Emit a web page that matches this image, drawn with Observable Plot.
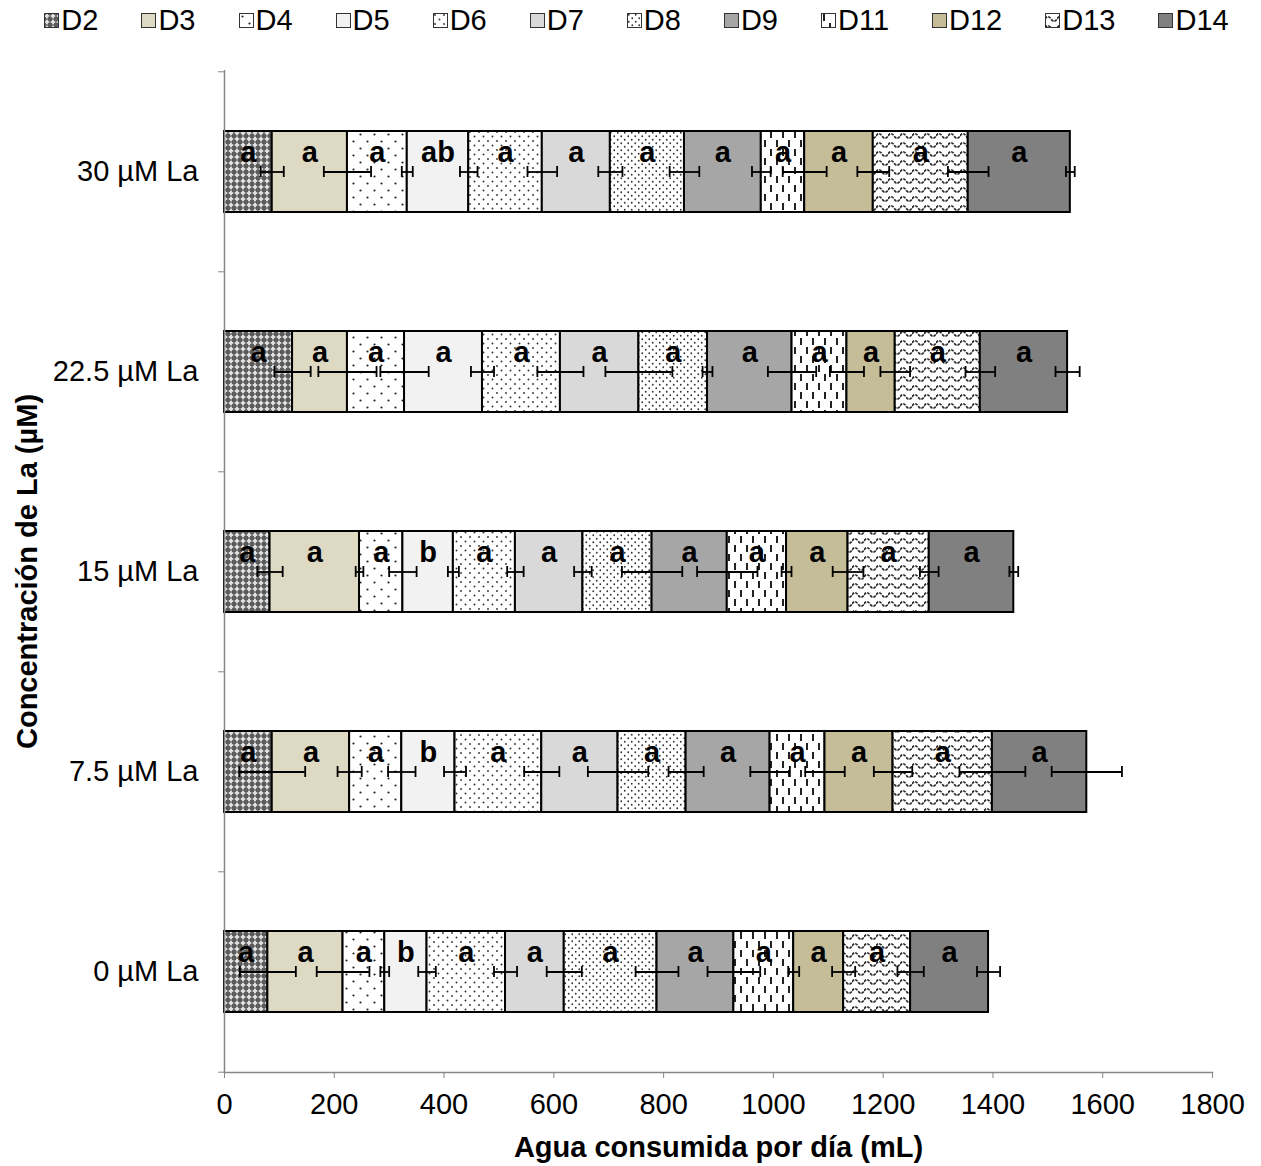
<!DOCTYPE html>
<html><head><meta charset="utf-8">
<script src="https://cdn.jsdelivr.net/npm/d3@7"></script>
<script src="https://cdn.jsdelivr.net/npm/@observablehq/plot@0.6"></script>
<style>
body{margin:0;background:#fff;font-family:"Liberation Sans",Arial,sans-serif;}
#legend{height:40px;display:flex;justify-content:center;align-items:center;gap:43px;font-size:29px;padding-left:12px;color:#000;}
.item{display:flex;align-items:center;}
.item svg{margin-right:2px;}
#chart svg{display:block;}
</style></head><body>
<svg width="0" height="0" style="position:absolute">
<defs>
<pattern id="p-D2" width="6" height="6" patternUnits="userSpaceOnUse">
  <rect width="6" height="6" fill="#5c5c5c"/>
  <path d="M3,0.1L4.1,1.9L5.9,3L4.1,4.1L3,5.9L1.9,4.1L0.1,3L1.9,1.9Z" fill="#f6f6f6"/>
  <circle cx="3" cy="3" r="0.55" fill="#999"/>
</pattern>
<pattern id="p-D3" width="4" height="4" patternUnits="userSpaceOnUse"><rect width="4" height="4" fill="#DDD9C3"/></pattern>
<pattern id="p-D4" width="14" height="14" patternUnits="userSpaceOnUse">
  <rect width="14" height="14" fill="#fff"/>
  <circle cx="3.5" cy="3.5" r="1.1" fill="#222"/><circle cx="10.5" cy="10.5" r="1.1" fill="#222"/>
</pattern>
<pattern id="p-D5" width="4" height="4" patternUnits="userSpaceOnUse"><rect width="4" height="4" fill="#F2F2F2"/></pattern>
<pattern id="p-D6" width="9" height="9" patternUnits="userSpaceOnUse">
  <rect width="9" height="9" fill="#fff"/>
  <circle cx="2" cy="2" r="0.95" fill="#333"/><circle cx="6.5" cy="6.5" r="0.95" fill="#333"/>
</pattern>
<pattern id="p-D7" width="4" height="4" patternUnits="userSpaceOnUse"><rect width="4" height="4" fill="#D9D9D9"/></pattern>
<pattern id="p-D8" width="7" height="7" patternUnits="userSpaceOnUse">
  <rect width="7" height="7" fill="#fff"/>
  <circle cx="1.75" cy="1.75" r="0.9" fill="#333"/><circle cx="5.25" cy="5.25" r="0.9" fill="#333"/>
</pattern>
<pattern id="p-D9" width="4" height="4" patternUnits="userSpaceOnUse"><rect width="4" height="4" fill="#A6A6A6"/></pattern>
<pattern id="p-D11" width="12" height="18" patternUnits="userSpaceOnUse">
  <rect width="12" height="18" fill="#fff"/>
  <rect x="2" y="1" width="2" height="7" fill="#222"/><rect x="8" y="10" width="2" height="7" fill="#222"/>
</pattern>
<pattern id="p-D12" width="4" height="4" patternUnits="userSpaceOnUse"><rect width="4" height="4" fill="#C4BD97"/></pattern>
<pattern id="p-D13" width="12" height="9" patternUnits="userSpaceOnUse">
  <rect width="12" height="9" fill="#fff"/>
  <path d="M0,6 Q3,1.5 6,6 T12,6" stroke="#2a2a2a" stroke-width="1.7" fill="none" stroke-dasharray="3,1"/>
</pattern>
<pattern id="p-D14" width="4" height="4" patternUnits="userSpaceOnUse"><rect width="4" height="4" fill="#808080"/></pattern>
</defs>
</svg>
<div id="legend"></div>
<div id="chart"></div>
<script>
const categories = ["30 µM La", "22.5 µM La", "15 µM La", "7.5 µM La", "0 µM La"];
const series = ["D2", "D3", "D4", "D5", "D6", "D7", "D8", "D9", "D11", "D12", "D13", "D14"];
const xTicks = [0, 200, 400, 600, 800, 1000, 1200, 1400, 1600, 1800];
const xTitle = "Agua consumida por día (mL)";
const yTitle = "Concentración de La (µM)";

// mean water consumption per day (mL), per series D2..D14
const v30 = [87, 137, 109, 112, 134, 124, 135, 140, 79, 125, 173, 186];
const v22 = [124, 100, 104, 142, 142, 143, 125, 154, 100, 88, 155, 159];
const v15 = [83, 163, 79, 92, 113, 123, 126, 137, 108, 112, 148, 154];
const v7 = [87, 141, 95, 97, 158, 139, 124, 153, 100, 124, 181, 172];
const v0 = [79, 137, 76, 77, 143, 107, 169, 140, 109, 91, 122, 142];

// error bar half-widths
const e30 = [21, 43, 10, 16, 27, 22, 27, 17, 40, 29, 37, 8];
const e22 = [33, 53, 44, 21, 42, 61, 9, 44, 31, 27, 27, 22];
const e15 = [23, 7, 25, 10, 15, 16, 55, 55, 9, 28, 17, 8];
const e7 = [60, 22, 25, 20, 32, 55, 32, 36, 36, 35, 60, 64];
const e0 = [51, 48, 8, 16, 21, 32, 39, 48, 10, 21, 24, 21];

// significance letters
const l30 = ["a", "a", "a", "ab", "a", "a", "a", "a", "a", "a", "a", "a"];
const l22 = ["a", "a", "a", "a", "a", "a", "a", "a", "a", "a", "a", "a"];
const l15 = ["a", "a", "a", "b", "a", "a", "a", "a", "a", "a", "a", "a"];
const l7 = ["a", "a", "a", "b", "a", "a", "a", "a", "a", "a", "a", "a"];
const l0 = ["a", "a", "a", "b", "a", "a", "a", "a", "a", "a", "a", "a"];

const valueSets = [v30, v22, v15, v7, v0];
const errSets = [e30, e22, e15, e7, e0];
const letterSets = [l30, l22, l15, l7, l0];

const rows = [];
categories.forEach((cat, i) => {
  let cum = 0;
  series.forEach((s, j) => {
    cum += valueSets[i][j];
    rows.push({cat, series: s, value: valueSets[i][j], err: errSets[i][j], end: cum, letter: letterSets[i][j]});
  });
});
const caps = rows.flatMap(d => [{cat: d.cat, x: d.end - d.err}, {cat: d.cat, x: d.end + d.err}]);

// legend
const legend = d3.select("#legend");
series.forEach(s => {
  const it = legend.append("div").attr("class", "item");
  const sw = it.append("svg").attr("width", 15).attr("height", 15);
  sw.append("rect").attr("x", 0.5).attr("y", 0.5).attr("width", 14).attr("height", 14)
    .attr("fill", `url(#p-${s})`).attr("stroke", "#333").attr("stroke-width", 1);
  it.append("span").text(s);
});

const plotH = 1126, mT = 30, mB = 94;
const step = (plotH - mT - mB) / categories.length;
const axisGrey = "#868686";

const chart = Plot.plot({
  width: 1261,
  height: plotH,
  marginLeft: 224,
  marginRight: 49,
  marginTop: mT,
  marginBottom: mB,
  style: {fontFamily: "'Liberation Sans', Arial, sans-serif", fontSize: "29px", color: "#000", background: "#fff", overflow: "visible"},
  x: {domain: [0, 1800], label: null},
  y: {domain: categories, paddingInner: 0.595, paddingOuter: 0.2975, label: null},
  color: {type: "identity"},
  marks: [
    Plot.barX(rows, {y: "cat", x: "value", fill: d => `url(#p-${d.series})`, stroke: "#000", strokeWidth: 2}),
    Plot.ruleY(rows, {y: "cat", x1: d => d.end - d.err, x2: d => d.end + d.err, stroke: "#000", strokeWidth: 1.8}),
    Plot.tickX(caps, {x: "x", y: "cat", insetTop: 35, insetBottom: 35, stroke: "#000", strokeWidth: 1.8}),
    Plot.text(rows, Plot.stackX({x: "value", y: "cat", text: "letter", dy: -19, fontWeight: "bold", fontSize: 29, fill: "#000"})),
    Plot.ruleX([0], {stroke: axisGrey, strokeWidth: 1.5}),
    Plot.frame({anchor: "bottom", stroke: axisGrey, strokeWidth: 1.5}),
    Plot.axisX({ticks: xTicks, text: null, tickSize: 6, stroke: axisGrey, label: null}),
    Plot.axisX({ticks: xTicks, tickFormat: d => String(d), tickSize: 0, tickPadding: 21, label: null}),
    Plot.axisY({tickSize: 0, tickPadding: 26, label: null}),
    Plot.axisY({text: null, tickSize: 6, dy: -step / 2, stroke: axisGrey, label: null}),
    Plot.axisY({ticks: [categories[categories.length - 1]], text: null, tickSize: 6, dy: step / 2, stroke: axisGrey, label: null}),
    Plot.text([xTitle], {text: d => d, frameAnchor: "bottom", dy: 84, fontWeight: "bold", fontSize: 29, fill: "#000"}),
    Plot.text([yTitle], {text: d => d, frameAnchor: "left", textAnchor: "middle", dx: -197, rotate: -90, fontWeight: "bold", fontSize: 29, fill: "#000"})
  ]
});
document.getElementById("chart").appendChild(chart);
</script>
</body></html>
